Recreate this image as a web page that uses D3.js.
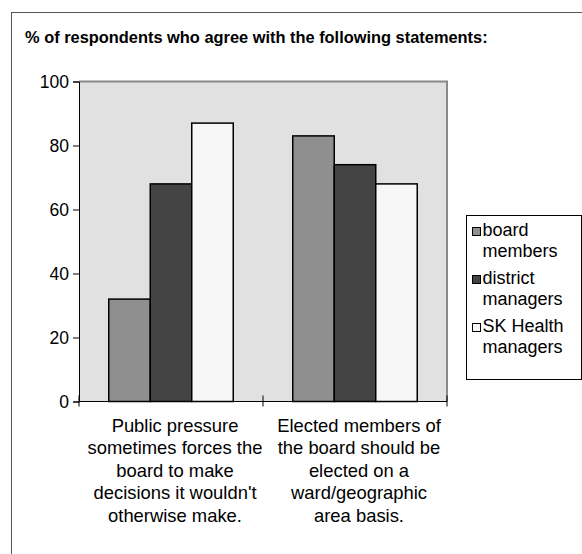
<!DOCTYPE html>
<html>
<head>
<meta charset="utf-8">
<script src="https://cdn.jsdelivr.net/npm/d3@7"></script>
<style>
  html, body { margin: 0; padding: 0; background: #fff; }
  svg { display: block; font-family: "Liberation Sans", Arial, sans-serif; }
</style>
</head>
<body>
<svg id="chart" width="582" height="554"></svg>
<script>
// Survey statements (category axis), each wrapped into display lines
const categories = ["Public pressure", "Elected members"];
const categoryLines = [
  ["Public pressure", "sometimes forces the", "board to make", "decisions it wouldn't", "otherwise make."],
  ["Elected members of", "the board should be", "elected on a", "ward/geographic", "area basis."]
];

// Respondent groups
const series = ["board members", "district managers", "SK Health managers"];
const legendLines = [["board", "members"], ["district", "managers"], ["SK Health", "managers"]];
const seriesColors = ["#8f8f8f", "#444444", "#f7f7f7"];

// % agreeing, per category, in series order
const boardMembers = [32, 83];
const districtManagers = [68, 74];
const skHealthManagers = [87, 68];
const seriesValues = [boardMembers, districtManagers, skHealthManagers];

const yTicks = [0, 20, 40, 60, 80, 100];

const svg = d3.select("#chart");

// Outer frame
svg.append("rect")
  .attr("x", 11.5).attr("y", 12.5)
  .attr("width", 700).attr("height", 700)
  .attr("fill", "none").attr("stroke", "#555").attr("stroke-width", 1);

// Title
svg.append("text")
  .attr("x", 25).attr("y", 43)
  .attr("font-size", "16.4px").attr("font-weight", "bold").attr("fill", "#000")
  .text("% of respondents who agree with the following statements:");

const plot = { left: 79, right: 447, top: 81.5, bottom: 401.5 };

const x0 = d3.scaleBand().domain(categories).range([plot.left, plot.right]).padding(0);
const x1 = d3.scaleBand().domain(series).range([0, x0.bandwidth()]).paddingInner(0).paddingOuter(0.717);
const y = d3.scaleLinear().domain([0, 100]).range([plot.bottom, plot.top]);

// Plot background
svg.append("rect")
  .attr("x", plot.left).attr("y", plot.top)
  .attr("width", plot.right - plot.left).attr("height", plot.bottom - plot.top)
  .attr("fill", "#e1e1e1");

// Plot border (top and right)
svg.append("path")
  .attr("d", `M${plot.left},${plot.top}H${plot.right}V${plot.bottom}`)
  .attr("fill", "none").attr("stroke", "#8a8a8a").attr("stroke-width", 2);

// Bars
const groups = svg.append("g").selectAll("g")
  .data(categories)
  .join("g")
  .attr("transform", d => `translate(${x0(d)},0)`);

groups.selectAll("rect")
  .data((c, ci) => series.map((s, si) => ({ s, si, v: seriesValues[si][ci] })))
  .join("rect")
  .attr("x", d => x1(d.s))
  .attr("y", d => y(d.v))
  .attr("width", x1.bandwidth())
  .attr("height", d => y(0) - y(d.v))
  .attr("fill", d => seriesColors[d.si])
  .attr("stroke", "#000").attr("stroke-width", 1.5);

// Y axis
const yAxis = d3.axisLeft(y).tickValues(yTicks).tickSize(6).tickPadding(4);
const yg = svg.append("g")
  .attr("transform", `translate(${plot.left},0)`)
  .call(yAxis);
yg.select(".domain").attr("stroke", "#000");
yg.selectAll(".tick line").attr("stroke", "#000");
yg.selectAll(".tick text")
  .attr("font-size", "17.5px").attr("fill", "#000")
  .attr("font-family", "Liberation Sans, Arial, sans-serif");

// X axis line and boundary ticks between categories
svg.append("line")
  .attr("x1", plot.left).attr("x2", plot.right)
  .attr("y1", plot.bottom).attr("y2", plot.bottom)
  .attr("stroke", "#000");
const boundaries = categories.map(c => x0(c) + x0.bandwidth()).concat([x0(categories[0])]);
svg.append("g").selectAll("line")
  .data(boundaries)
  .join("line")
  .attr("x1", d => d).attr("x2", d => d)
  .attr("y1", plot.bottom - 6).attr("y2", plot.bottom + 5)
  .attr("stroke", "#000");

// Category labels
const catLabels = svg.append("g").selectAll("text")
  .data(categories)
  .join("text")
  .attr("text-anchor", "middle")
  .attr("font-size", "18.4px").attr("fill", "#000")
  .attr("transform", d => `translate(${x0(d) + x0.bandwidth() / 2 + 4},431.5)`);
catLabels.selectAll("tspan")
  .data((d, i) => categoryLines[i])
  .join("tspan")
  .attr("x", 0)
  .attr("y", (d, i) => i * 22.5)
  .text(d => d);

// Legend
const legend = svg.append("g");
legend.append("rect")
  .attr("x", 466.5).attr("y", 215.5).attr("width", 115).attr("height", 164)
  .attr("fill", "#fff").attr("stroke", "#000").attr("stroke-width", 1);

const items = legend.selectAll("g.item")
  .data(series)
  .join("g")
  .attr("class", "item")
  .attr("transform", (d, i) => `translate(472,${236 + i * 48})`);
items.append("rect")
  .attr("x", 0.5).attr("y", -8.5).attr("width", 8).attr("height", 8)
  .attr("fill", (d, i) => seriesColors[i])
  .attr("stroke", "#000").attr("stroke-width", 1);
items.append("text")
  .attr("font-size", "18px").attr("fill", "#000")
  .selectAll("tspan")
  .data((d, i) => legendLines[i])
  .join("tspan")
  .attr("x", 10.5)
  .attr("y", (d, i) => i * 21)
  .text(d => d);
</script>
</body>
</html>
